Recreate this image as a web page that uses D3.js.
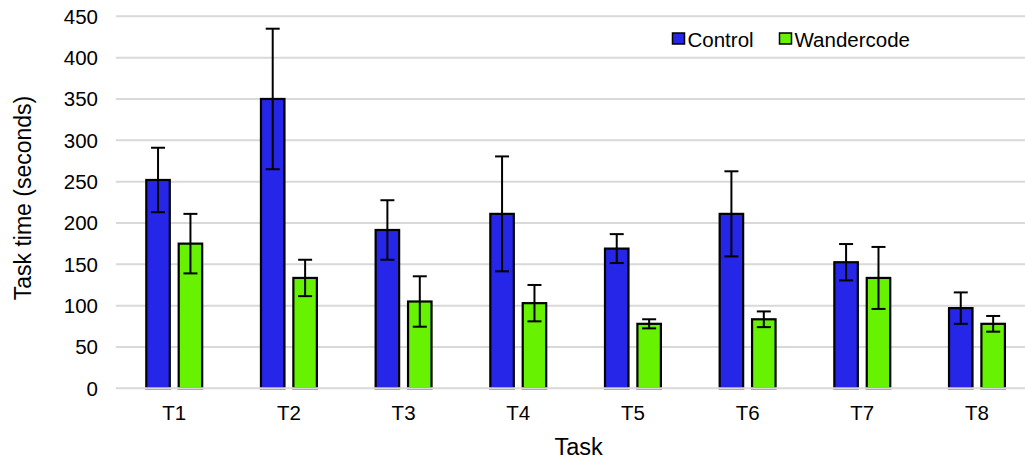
<!DOCTYPE html>
<html>
<head>
<meta charset="utf-8">
<script src="https://cdn.jsdelivr.net/npm/d3@7"></script>
<style>
  html, body { margin: 0; padding: 0; background: #fff; }
  svg { display: block; }
  text { font-family: "Liberation Sans", Arial, Helvetica, sans-serif; fill: #000; }
</style>
</head>
<body>
<svg id="chart" width="1025" height="461"></svg>
<script>
const categories = ["T1", "T2", "T3", "T4", "T5", "T6", "T7", "T8"];
const seriesNames = ["Control", "Wandercode"];
const controlValues = [252, 350, 191.5, 211, 169, 211, 152.5, 97];
const controlErrors = [39, 85, 36, 69.5, 17.5, 51.5, 22, 19];
const wanderValues = [175, 133.5, 105, 103, 78, 83.5, 133.5, 78];
const wanderErrors = [36, 22, 30.5, 22, 5.5, 9.5, 37.5, 9.5];
const yTicks = [0, 50, 100, 150, 200, 250, 300, 350, 400, 450];
const colors = ["#2626E8", "#66F200"];

const svg = d3.select("#chart");
const W = 1025, H = 461;
const plotLeft = 116.9, plotRight = 1034.3;
const plotTop = 16.3, plotBottom = 388.3;

const x = d3.scaleBand().domain(categories).range([plotLeft, plotRight]).paddingInner(0).paddingOuter(0);
const step = x.bandwidth();
const x1 = d3.scaleBand().domain(seriesNames)
  .range([step / 2 - 29.05, step / 2 + 29.05]).paddingInner(0.207).paddingOuter(0);
const y = d3.scaleLinear().domain([0, 450]).range([plotBottom, plotTop]);
const color = d3.scaleOrdinal().domain(seriesNames).range(colors);

const data = categories.map((c, i) => ({
  cat: c,
  items: [
    { s: "Control", v: controlValues[i], e: controlErrors[i] },
    { s: "Wandercode", v: wanderValues[i], e: wanderErrors[i] }
  ]
}));

// gridlines
svg.append("g").selectAll("line").data(yTicks.filter(t => t > 0)).join("line")
  .attr("x1", plotLeft - 1).attr("x2", W)
  .attr("y1", d => y(d)).attr("y2", d => y(d))
  .attr("stroke", "#d9d9d9").attr("stroke-width", 2);

// y axis labels
const yAxis = d3.axisLeft(y).tickValues(yTicks).tickSize(0).tickPadding(0);
const gy = svg.append("g").attr("transform", `translate(98,0)`).call(yAxis);
gy.select(".domain").remove();
gy.selectAll("text").attr("font-size", 20.5).attr("fill", "#000").attr("dy", "0.34em");

// bars
const groups = svg.append("g").selectAll("g").data(data).join("g")
  .attr("transform", d => `translate(${x(d.cat)},0)`);

groups.selectAll("rect").data(d => d.items).join("rect")
  .attr("x", d => x1(d.s) + 1.1)
  .attr("width", x1.bandwidth() - 2.2)
  .attr("y", d => y(d.v))
  .attr("height", d => y(0) - y(d.v))
  .attr("fill", d => color(d.s))
  .attr("stroke", "#000").attr("stroke-width", 2.2);

// error bars
const eb = groups.selectAll("g.err").data(d => d.items).join("g").attr("class", "err");
eb.append("line")
  .attr("x1", d => x1(d.s) + x1.bandwidth() / 2).attr("x2", d => x1(d.s) + x1.bandwidth() / 2)
  .attr("y1", d => y(d.v + d.e)).attr("y2", d => y(d.v - d.e))
  .attr("stroke", "#000").attr("stroke-width", 2);
eb.append("line")
  .attr("x1", d => x1(d.s) + x1.bandwidth() / 2 - 7).attr("x2", d => x1(d.s) + x1.bandwidth() / 2 + 7)
  .attr("y1", d => y(d.v + d.e)).attr("y2", d => y(d.v + d.e))
  .attr("stroke", "#000").attr("stroke-width", 2);
eb.append("line")
  .attr("x1", d => x1(d.s) + x1.bandwidth() / 2 - 7).attr("x2", d => x1(d.s) + x1.bandwidth() / 2 + 7)
  .attr("y1", d => y(d.v - d.e)).attr("y2", d => y(d.v - d.e))
  .attr("stroke", "#000").attr("stroke-width", 2);

// baseline
svg.append("line").attr("x1", plotLeft - 1).attr("x2", W)
  .attr("y1", y(0)).attr("y2", y(0))
  .attr("stroke", "#d9d9d9").attr("stroke-width", 2);

// x axis labels
const xAxis = d3.axisBottom(x).tickSize(0).tickPadding(0);
const gx = svg.append("g").attr("transform", `translate(0,420)`).call(xAxis);
gx.select(".domain").remove();
gx.selectAll("text").attr("font-size", 20.5).attr("fill", "#000").attr("dy", 0).attr("y", 0);

// axis titles
svg.append("text").attr("x", (plotLeft + plotRight) / 2 + 3).attr("y", 455)
  .attr("text-anchor", "middle").attr("font-size", 23.5).text("Task");
svg.append("text").attr("transform", `translate(31,198) rotate(-90)`)
  .attr("text-anchor", "middle").attr("font-size", 23).text("Task time (seconds)");

// legend
const legendX = [672, 779];
const lg = svg.append("g").selectAll("g").data(seriesNames).join("g")
  .attr("transform", (d, i) => `translate(${legendX[i]},0)`);
lg.append("rect").attr("x", 0.5).attr("y", 33).attr("width", 12).attr("height", 11)
  .attr("fill", d => color(d)).attr("stroke", "#000").attr("stroke-width", 1.5);
lg.append("text").attr("x", 15.5).attr("y", 46.5).attr("font-size", 20.5).text(d => d);
</script>
</body>
</html>
